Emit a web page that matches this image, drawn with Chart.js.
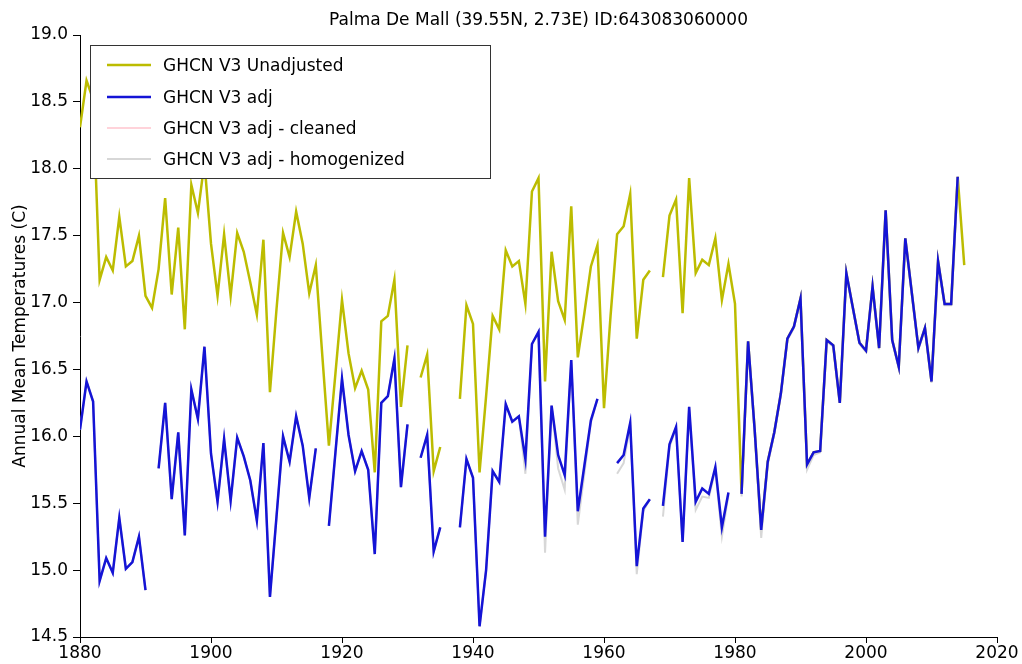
<!DOCTYPE html>
<html><head><meta charset="utf-8">
<script src="https://cdn.jsdelivr.net/npm/chart.js@4.4.1/dist/chart.umd.min.js"></script>
<style>html,body{margin:0;padding:0;background:#fff;}#wrap{width:1022px;height:664px;position:relative;}</style>
</head><body><div id="wrap"><canvas id="c" width="1022" height="664"></canvas></div>
<script>
const chartTitle = 'Palma De Mall (39.55N, 2.73E) ID:643083060000';
const yAxisTitle = 'Annual Mean Temperatures (C)';
const seriesNames = ['GHCN V3 Unadjusted', 'GHCN V3 adj', 'GHCN V3 adj - cleaned', 'GHCN V3 adj - homogenized'];
const xTicks = [1880, 1900, 1920, 1940, 1960, 1980, 2000, 2020];
const yTicks = [14.5, 15.0, 15.5, 16.0, 16.5, 17.0, 17.5, 18.0, 18.5, 19.0];
const firstYear = 1880, lastYear = 2015;
const years = Array.from({length: lastYear - firstYear + 1}, (_, i) => firstYear + i);

// 1880..2015
const unadjusted = [
 18.31,18.66,18.52,17.17,17.34,17.24,17.64,17.27,17.31,17.50,
 17.05,16.96,17.25,17.78,17.06,17.56,16.80,17.88,17.67,18.05,
 17.44,17.05,17.51,17.05,17.52,17.38,17.15,16.91,17.47,16.33,
 16.95,17.52,17.34,17.68,17.44,17.07,17.28,16.60,15.93,16.47,
 17.02,16.62,16.36,16.49,16.35,15.73,16.86,16.90,17.17,16.22,
 16.68,null,16.44,16.61,15.74,15.92,null,null,16.28,16.98,
 16.84,15.73,16.30,16.90,16.80,17.39,17.27,17.31,16.99,17.83,
 17.93,16.41,17.38,17.01,16.87,17.72,16.59,16.92,17.27,17.43,
 16.21,16.90,17.51,17.57,17.81,16.73,17.17,17.24,null,17.19,
 17.65,17.77,16.92,17.93,17.22,17.32,17.28,17.48,17.02,17.29,
 16.99,15.57,16.71,16.05,15.30,15.81,16.03,16.32,16.73,16.82,
 17.03,15.79,15.88,15.89,16.72,16.68,16.25,17.22,16.96,16.70,
 16.64,17.12,16.66,17.69,16.72,16.52,17.48,17.07,16.66,16.81,
 16.41,17.31,16.99,16.99,17.94,17.28
];
const adj = [
 16.05,16.41,16.26,14.92,15.09,14.98,15.39,15.01,15.06,15.25,
 14.85,null,15.76,16.25,15.53,16.03,15.26,16.35,16.13,16.67,
 15.87,15.51,15.98,15.52,15.99,15.85,15.67,15.37,15.95,14.80,
 15.40,16.00,15.81,16.15,15.93,15.54,15.91,null,15.33,15.88,
 16.43,16.01,15.74,15.89,15.75,15.12,16.25,16.30,16.58,15.62,
 16.09,null,15.84,16.01,15.14,15.32,null,null,15.32,15.83,
 15.69,14.58,15.00,15.74,15.66,16.24,16.11,16.15,15.83,16.69,
 16.78,15.25,16.23,15.86,15.71,16.57,15.44,15.78,16.12,16.28,
 null,null,15.80,15.86,16.10,15.03,15.46,15.53,null,15.48,
 15.94,16.07,15.21,16.22,15.51,15.61,15.57,15.77,15.32,15.58,
 null,15.57,16.71,16.05,15.30,15.81,16.03,16.32,16.73,16.82,
 17.03,15.79,15.88,15.89,16.72,16.68,16.25,17.22,16.96,16.70,
 16.64,17.12,16.66,17.69,16.72,16.52,17.48,17.07,16.66,16.81,
 16.41,17.31,16.99,16.99,17.94,null
];
const cleaned = [
 16.05,16.41,16.26,14.92,15.09,14.98,15.39,15.01,15.06,15.25,
 14.85,null,15.76,16.25,15.53,16.03,15.26,16.35,16.13,16.67,
 15.87,15.51,15.98,15.52,15.99,15.85,15.67,15.37,15.95,14.80,
 15.40,16.00,15.81,16.15,15.93,15.54,15.91,null,15.33,15.88,
 16.43,16.01,15.74,15.89,15.75,15.12,16.25,16.30,16.58,15.62,
 16.09,null,15.84,16.01,15.14,15.32,null,null,15.32,15.83,
 15.69,14.58,15.00,15.74,15.66,16.24,16.11,16.15,15.83,16.69,
 16.78,15.25,16.23,15.86,15.71,16.57,15.44,15.78,16.12,16.28,
 null,null,15.80,15.86,16.10,15.03,15.46,15.53,null,15.48,
 15.94,16.07,15.21,16.22,15.51,15.61,15.57,15.77,15.32,15.58,
 null,15.57,16.71,16.05,15.30,15.81,16.03,16.32,16.73,16.82,
 17.03,15.79,15.88,15.89,16.72,16.68,16.25,17.22,16.96,16.70,
 16.64,17.12,16.66,17.69,16.72,16.52,17.48,17.07,16.66,16.81,
 16.41,17.31,16.99,16.99,17.94,null
];
const homogenized = [
 16.05,16.41,16.26,14.92,15.09,14.98,15.39,15.01,15.06,15.25,
 14.85,null,15.76,16.25,15.53,16.03,15.26,16.35,16.13,16.67,
 15.87,15.51,15.98,15.52,15.99,15.85,15.67,15.37,15.95,14.80,
 15.40,16.00,15.81,16.15,15.93,15.54,15.91,null,15.33,15.88,
 16.43,16.01,15.74,15.89,15.75,15.12,16.25,16.30,16.58,15.62,
 16.09,null,15.84,16.01,15.14,15.32,null,null,15.32,15.83,
 15.69,14.58,15.00,15.74,15.66,16.24,16.11,16.15,15.72,16.69,
 16.78,15.13,16.23,15.76,15.60,16.57,15.34,15.72,16.10,16.28,
 null,null,15.72,15.80,16.08,14.97,15.44,15.53,null,15.40,
 15.92,16.06,15.21,16.20,15.45,15.55,15.54,15.75,15.25,15.56,
 null,15.55,16.71,16.03,15.24,15.79,16.02,16.31,16.72,16.81,
 17.02,15.75,15.86,15.88,16.71,16.67,16.25,17.21,16.95,16.69,
 16.63,17.11,16.65,17.68,16.71,16.51,17.47,17.06,16.65,16.80,
 16.40,17.30,16.98,16.98,17.93,null
];

const seriesValues = [unadjusted, adj, cleaned, homogenized];
const seriesColors = ['#bcbc00', '#1414d6', 'rgba(255,182,193,0.6)', 'rgba(205,205,205,0.8)'];
const seriesWidths = [2.5, 2.5, 2, 2];
const drawOrder = [3, 0, 2, 1];
const FONT = '"DejaVu Sans", sans-serif';
const FSIZE = 17;

const toPoints = vals => years.map((yr, i) => ({x: yr, y: vals[i]}));

const overlayPlugin = {
  id: 'overlay',
  afterDraw(chart) {
    const ctx = chart.ctx, area = chart.chartArea;
    ctx.save();
    ctx.fillStyle = '#000';
    ctx.font = FSIZE + 'px ' + FONT;
    ctx.textAlign = 'center';
    ctx.textBaseline = 'middle';
    ctx.fillText(chartTitle, (area.left + area.right) / 2, 21);
    const bx = 90, by = 45, bw = 400, bh = 133;
    ctx.fillStyle = '#fff';
    ctx.fillRect(bx, by, bw, bh);
    ctx.strokeStyle = '#333';
    ctx.lineWidth = 1;
    ctx.strokeRect(bx + 0.5, by + 0.5, bw, bh);
    const rowY = [65, 97, 128, 159];
    ctx.textAlign = 'left';
    seriesNames.forEach((name, i) => {
      ctx.strokeStyle = seriesColors[i];
      ctx.lineWidth = seriesWidths[i];
      ctx.beginPath();
      ctx.moveTo(107, rowY[i]);
      ctx.lineTo(151, rowY[i]);
      ctx.stroke();
      ctx.fillStyle = '#000';
      ctx.fillText(name, 163, rowY[i] + 2);
    });
    ctx.restore();
  }
};

new Chart(document.getElementById('c'), {
  type: 'line',
  data: {
    datasets: seriesNames.map((name, i) => ({
      label: name,
      data: toPoints(seriesValues[i]),
      borderColor: seriesColors[i],
      backgroundColor: seriesColors[i],
      borderWidth: seriesWidths[i],
      pointRadius: 0,
      tension: 0,
      spanGaps: false,
      order: drawOrder[i]
    }))
  },
  options: {
    responsive: false,
    animation: false,
    layout: {padding: {left: 0, top: 35, right: 25, bottom: 0}},
    plugins: {legend: {display: false}, title: {display: false}, tooltip: {enabled: false}},
    scales: {
      x: {
        type: 'linear', min: 1880, max: 2020,
        afterBuildTicks: s => { s.ticks = xTicks.map(v => ({value: v})); },
        ticks: {callback: v => String(v), color: '#000', font: {family: FONT, size: FSIZE}, padding: 0, maxRotation: 0},
        grid: {drawOnChartArea: false, drawTicks: true, tickLength: 6, color: '#000'},
        border: {display: true, color: '#000', width: 1},
        afterFit: s => { s.height = 27; }
      },
      y: {
        type: 'linear', min: 14.5, max: 19.0,
        afterBuildTicks: s => { s.ticks = yTicks.map(v => ({value: v})); },
        ticks: {callback: v => Number(v).toFixed(1), color: '#000', font: {family: FONT, size: FSIZE}, padding: 5},
        grid: {drawOnChartArea: false, drawTicks: true, tickLength: 7, color: '#000'},
        border: {display: true, color: '#000', width: 1},
        title: {display: true, text: yAxisTitle, color: '#000', font: {family: FONT, size: FSIZE}, padding: {top: 10, bottom: 0}},
        afterFit: s => { s.width = 80; }
      }
    }
  },
  plugins: [overlayPlugin]
});
</script></body></html>
